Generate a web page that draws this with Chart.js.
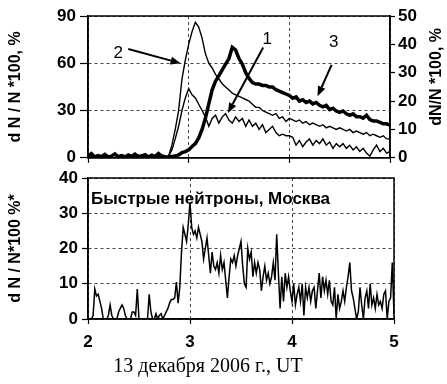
<!DOCTYPE html>
<html>
<head>
<meta charset="utf-8">
<script src="https://cdn.jsdelivr.net/npm/chart.js@4.4.0/dist/chart.umd.min.js"></script>
<style>
  body { margin: 0; background: #fff; width: 447px; height: 384px; overflow: hidden; position: relative; }
  #topChart { position: absolute; left: 0; top: 0; }
  #bottomChart { position: absolute; left: 0; top: 160px; }
  #xTitle {
    position: absolute; left: 0; top: 353px; width: 416px; text-align: center;
    font: 20px "Liberation Serif", "Times New Roman", serif; line-height: 24px; color: #000;
  }
</style>
</head>
<body>
<canvas id="topChart" width="447" height="172"></canvas>
<canvas id="bottomChart" width="447" height="200"></canvas>
<div id="xTitle">13 декабря 2006 г., UT</div>
<script>
// time base: hours UT, top curves every 2 min, neutron monitor every 1 min
const hourStart = 2;
const topStep = 1 / 30;
const bottomStep = 1 / 60;

const xTicks = [2, 3, 4, 5];
const leftTicksTop = [0, 30, 60, 90];
const rightTicksTop = [0, 10, 20, 30, 40, 50];
const leftTicksBottom = [0, 10, 20, 30, 40];

// curve 1 (lower thin line), left axis
const curve1 = [
  0, 1, 0, 0, 1, 0, 1, 0, 0, 1, 0, 1, 0, 0, 1, 0, 1, 0, 0, 1, 0, 0, 1, 0,
  1, 5, 12, 20, 30, 38, 44, 40, 38, 34, 30, 26, 20, 25, 27, 22, 26, 28, 24, 22, 26, 23, 25,
  20, 24, 20, 22, 18, 21, 16, 18, 20, 16, 14, 15, 14, 14,
  13, 8, 11, 7, 10, 12, 8, 11, 9, 12, 8, 10, 6, 9, 7, 9, 6, 8, 5, 7, 4, 6, 3, 1, 5, 8, 4, 6, 3, 4
];

// curve 2 (upper thin line), left axis
const curve2 = [
  0, 2, 0, 1, 0, 1, 0, 1, 2, 0, 1, 0, 1, 0, 2, 1, 0, 1, 0, 2, 0, 1, 1, 0,
  1, 8, 18, 30, 50, 62, 72, 80, 86, 83, 76, 66, 60, 57, 53, 50, 47, 45, 43, 41, 40, 39, 38,
  37, 36, 34, 32, 32, 30, 29, 28, 27, 28, 25, 26, 23, 25,
  24, 23, 24, 22, 23, 21, 22, 21, 20, 21, 19, 20, 19, 18, 19, 18, 17, 18, 16, 17, 16, 15, 16, 14, 15, 14, 13, 14, 12, 12
];

// curve 3 (thick line), right axis
const curve3 = [
  0.5, 1.5, 0.3, 0.8, 0.4, 1.2, 0.3, 0.6, 1.4, 0.4, 0.8, 0.3, 1.0, 0.5, 1.3, 0.4, 0.7, 1.1, 0.3, 0.9, 0.5, 1.5, 0.6, 0.4,
  0.3, 0.5, 0.6, 1, 1.8, 2.2, 2.8, 4, 5, 7, 10, 14, 19, 24, 27, 29, 31, 33, 35, 39, 38, 35, 33,
  30, 28, 26.5, 26, 26, 25.5, 25.5, 25, 25, 24, 23.5, 23, 22.5, 22,
  21, 21.5, 20, 20.5, 19.5, 20, 19, 19.5, 18.5, 18, 18.5, 17, 17.5, 16.5, 16, 16.5, 15.5, 15, 15.5, 14.5,
  14.5, 14, 15, 13.5, 13, 13, 12.5, 12, 12, 11.5
];

// fast neutrons, Moscow
const fastNeutrons = [
  0, 0, 0, 1, 8.5, 6.5, 7, 5, 3, 0,
  0, 0, 1, 4, 1, 0, 0, 0, 2, 3,
  4, 3, 1, 0, 0, 0, 2, 2, 1, 8.5,
  0, 0, 0, 0, 0, 0, 7, 2, 0, 0,
  1.5, 0, 1, 1.5, 0, 1, 2, 3, 4.5, 5.5,
  5.5, 6, 10.5, 4.5, 9, 19, 26, 24, 22, 27,
  33, 26, 24, 25, 23, 26, 24, 22, 17, 20,
  23, 18, 13, 19, 15, 14, 16, 13, 18, 14,
  16, 11, 6, 12, 17, 16, 18, 15, 18, 20,
  22, 15, 10, 9, 20, 17, 19, 12, 16, 13,
  16, 14, 8, 12, 15, 11, 13, 10, 12, 16,
  11, 24, 13, 3, 12, 5, 13, 9, 12, 8,
  5, 10, 4, 7, 9, 5, 10, 1, 9, 6,
  9, 5, 8, 9, 3, 8, 13, 6, 12, 8,
  11, 7, 11, 5, 4, 9, 0, 7, 3, 5,
  8, 5, 9, 12, 16, 8, 6, 3, 0, 2,
  9, 4, 0, 6, 8, 3, 10, 4, 6, 3,
  7, 4, 5, 3, 7, 8, 0, 5, 6, 16, 1
];

// arrow labels on the top panel, in data units (hours, left axis)
const curveNotes = [
  { text: "2", at: [2.30, 66.5], from: [2.40, 69], to: [2.92, 60] },
  { text: "1", at: [3.78, 75], from: [3.74, 70], to: [3.39, 28.5] },
  { text: "3", at: [4.44, 73.5], from: [4.42, 59], to: [4.28, 39] },
];

const SANS = "'Liberation Sans', Arial, sans-serif";
const tickFont = { family: SANS, size: 17, weight: "bold" };
const titleFont = { family: SANS, size: 16, weight: "bold" };

function toPoints(values, step) {
  return values.map((v, i) => ({ x: hourStart + i * step, y: v }));
}

// min/max for the scale, stepSize goes into ticks
function bounds(ticks) {
  return { min: ticks[0], max: ticks[ticks.length - 1] };
}
function step(ticks) {
  return ticks[1] - ticks[0];
}

function drawArrow(ctx, x1, y1, x2, y2) {
  const ang = Math.atan2(y2 - y1, x2 - x1);
  const head = 10, half = 4;
  const bx = x2 - head * Math.cos(ang);
  const by = y2 - head * Math.sin(ang);
  ctx.beginPath();
  ctx.moveTo(x1, y1);
  ctx.lineTo(bx, by);
  ctx.stroke();
  ctx.beginPath();
  ctx.moveTo(x2, y2);
  ctx.lineTo(bx + half * Math.sin(ang), by - half * Math.cos(ang));
  ctx.lineTo(bx - half * Math.sin(ang), by + half * Math.cos(ang));
  ctx.closePath();
  ctx.fill();
}

const boxPlugin = {
  id: "box",
  afterDatasetsDraw(chart) {
    const { ctx, chartArea: a } = chart;
    ctx.save();
    ctx.strokeStyle = "#000";
    ctx.lineWidth = 1.5;
    ctx.strokeRect(a.left, a.top, a.right - a.left, a.bottom - a.top);
    ctx.restore();
  },
};

const topNotes = {
  id: "topNotes",
  afterDraw(chart) {
    const { ctx, scales, chartArea: a } = chart;
    const px = (t) => scales.x.getPixelForValue(t);
    const py = (v) => scales.y.getPixelForValue(v);
    ctx.save();
    ctx.fillStyle = "#000";
    ctx.strokeStyle = "#000";
    ctx.lineWidth = 2;
    ctx.font = "17px " + SANS;
    ctx.textAlign = "center";
    ctx.textBaseline = "middle";
    curveNotes.forEach((n) => {
      ctx.fillText(n.text, px(n.at[0]), py(n.at[1]));
      drawArrow(ctx, px(n.from[0]), py(n.from[1]), px(n.to[0]), py(n.to[1]));
    });
    // right axis title, reading upwards like the left one
    ctx.font = "bold 16px " + SANS;
    ctx.translate(chart.width - 10, (a.top + a.bottom) / 2 - 10);
    ctx.rotate(-Math.PI / 2);
    ctx.fillText("dN/N *100, %", 0, 0);
    ctx.restore();
  },
};

const bottomNote = {
  id: "bottomNote",
  afterDraw(chart) {
    const { ctx, chartArea: a } = chart;
    ctx.save();
    ctx.fillStyle = "#000";
    ctx.font = "bold 17px " + SANS;
    ctx.textBaseline = "middle";
    ctx.fillText("Быстрые нейтроны, Москва", a.left + 3, a.top + 21);
    ctx.restore();
  },
};

const gridStyle = { color: "#444", lineWidth: 1, tickColor: "#000", tickWidth: 1.2, tickBorderDash: [] };
const borderStyle = { color: "#000", width: 1.5, dash: [3, 3] };

function lineSet(values, stepHours, width, axis) {
  return {
    data: toPoints(values, stepHours),
    borderColor: "#000",
    borderWidth: width,
    pointRadius: 0,
    tension: 0,
    yAxisID: axis,
  };
}

new Chart(document.getElementById("topChart"), {
  type: "line",
  data: {
    datasets: [
      lineSet(curve1, topStep, 1.4, "y"),
      lineSet(curve2, topStep, 1.4, "y"),
      lineSet(curve3, topStep, 3.5, "y1"),
    ],
  },
  options: {
    responsive: false,
    animation: false,
    layout: { padding: { top: 16, left: 0, right: 0, bottom: 0 } },
    plugins: { legend: { display: false }, tooltip: { enabled: false } },
    scales: {
      x: {
        type: "linear",
        ...bounds(xTicks),
        ticks: { display: false, stepSize: step(xTicks) },
        grid: { ...gridStyle, tickLength: 5 },
        border: borderStyle,
        afterFit: (s) => { s.height = 14; },
      },
      y: {
        position: "left",
        ...bounds(leftTicksTop),
        ticks: { color: "#000", font: tickFont, padding: 4, stepSize: step(leftTicksTop) },
        grid: { ...gridStyle, tickLength: 8 },
        border: borderStyle,
        title: { display: true, text: "d N / N *100, %", color: "#000", font: titleFont, padding: { top: 6, bottom: 4 } },
        afterFit: (s) => { s.width = 88; },
      },
      y1: {
        position: "right",
        ...bounds(rightTicksTop),
        ticks: { color: "#000", font: tickFont, padding: 3, stepSize: step(rightTicksTop) },
        grid: { ...gridStyle, drawOnChartArea: false, tickLength: 5 },
        border: { color: "#000", width: 1.5 },
        afterFit: (s) => { s.width = 57; },
      },
    },
  },
  plugins: [boxPlugin, topNotes],
});

new Chart(document.getElementById("bottomChart"), {
  type: "line",
  data: {
    datasets: [lineSet(fastNeutrons, bottomStep, 1.5, "y")],
  },
  options: {
    responsive: false,
    animation: false,
    layout: { padding: { top: 18, left: 0, right: 53, bottom: 0 } },
    plugins: { legend: { display: false }, tooltip: { enabled: false } },
    scales: {
      x: {
        type: "linear",
        ...bounds(xTicks),
        ticks: { color: "#000", font: tickFont, padding: 8, stepSize: step(xTicks) },
        grid: { ...gridStyle, tickLength: 5 },
        border: borderStyle,
        afterFit: (s) => { s.height = 41; },
      },
      y: {
        position: "left",
        ...bounds(leftTicksBottom),
        ticks: { color: "#000", font: tickFont, padding: 4, stepSize: step(leftTicksBottom) },
        grid: { ...gridStyle, tickLength: 6 },
        border: borderStyle,
        title: { display: true, text: "d N / N*100 %*", color: "#000", font: titleFont, padding: { top: 6, bottom: 4 } },
        afterFit: (s) => { s.width = 88; },
      },
    },
  },
  plugins: [boxPlugin, bottomNote],
});
</script>
</body>
</html>
